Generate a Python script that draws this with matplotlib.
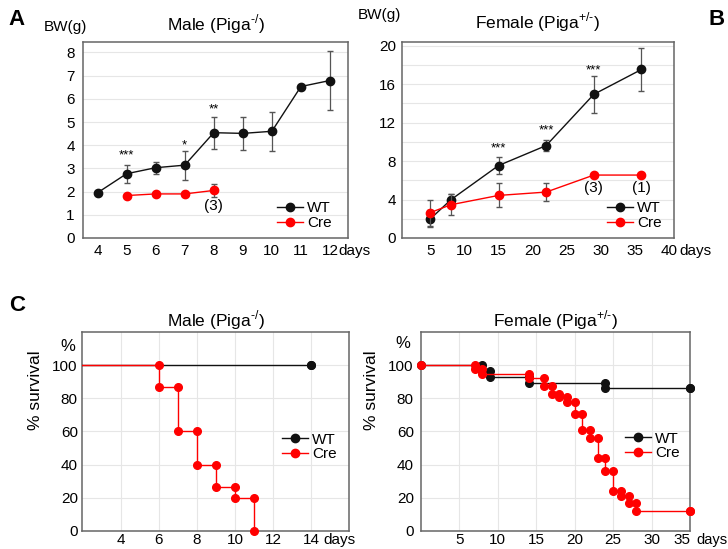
import matplotlib.pyplot as plt
from matplotlib.lines import Line2D

plt.rcParams['font.family'] = ['Liberation Sans', 'DejaVu Sans']
plt.rcParams['mathtext.fontset'] = 'custom'
plt.rcParams['mathtext.rm'] = 'Liberation Sans'

# --- body weight, male (Piga-/)
male_days = [4, 5, 6, 7, 8, 9, 10, 11, 12]
male_wt = [1.95, 2.77, 3.03, 3.14, 4.54, 4.51, 4.6, 6.53, 6.79]
male_wt_err = [0.0, 0.38, 0.26, 0.63, 0.69, 0.7, 0.83, 0.0, 1.26]
male_cre_days = [5, 6, 7, 8]
male_cre = [1.83, 1.9, 1.9, 2.05]
male_cre_err = [0.08, 0.0, 0.0, 0.27]

# --- body weight, female (Piga+/-)
fem_days = [5, 8, 15, 22, 29, 36]
fem_wt = [2.0, 3.98, 7.54, 9.62, 14.95, 17.54]
fem_wt_err = [0.9, 0.6, 0.85, 0.6, 1.95, 2.2]
fem_cre = [2.65, 3.46, 4.43, 4.78, 6.55, 6.55]
fem_cre_err = [1.35, 1.1, 1.25, 0.95, 0.0, 0.0]

# --- survival
surv_m_wt_t = [0, 14]
surv_m_wt = [100, 100]
surv_m_cre_t = [0, 6, 7, 8, 9, 10, 11]
surv_m_cre = [100, 86.7, 60, 40, 26.7, 20, 0]
surv_f_wt_t = [0, 8, 9, 14, 24, 35]
surv_f_wt = [100, 96.6, 93, 89.4, 86, 86]
surv_f_cre_t = [0, 7, 8, 14, 16, 17, 18, 19, 20, 21, 22, 23, 24, 25, 26, 27, 28, 35]
surv_f_cre = [100, 97.4, 94.8, 92.4, 87.6, 82.8, 80.6, 77.8, 70.4, 60.8, 56, 43.8,
              36, 24, 21.4, 16.8, 11.8, 11.8]

RED = '#ff0000'
BLK = '#111111'
GRID = '#e6e6e6'
SPINE = '#666666'
FS = 11
TFS = 12.5
MS = 6

fig = plt.figure(figsize=(7.28, 5.49), dpi=100)

def frame(ax, xpad, ypad):
    for s in ax.spines.values():
        s.set_color(SPINE)
        s.set_linewidth(1.1)
    ax.tick_params(length=0, labelsize=FS)
    ax.tick_params(axis='x', pad=xpad)
    ax.tick_params(axis='y', pad=ypad)
    ax.set_axisbelow(True)

def days(ax, x, pad, fs=FS):
    # same baseline as the x tick labels
    ax.annotate('days', xy=(x, 0), xycoords=('data', 'axes fraction'),
                xytext=(0, -pad), textcoords='offset points',
                fontsize=fs, ha='left', va='top', annotation_clip=False)

def legend(ax, x0, y0):
    hs = [Line2D([], [], color=BLK, marker='o', ms=MS, lw=1),
          Line2D([], [], color=RED, marker='o', ms=MS, lw=1)]
    ax.legend(hs, ['WT', 'Cre'], loc='lower left', bbox_to_anchor=(x0, y0),
              frameon=False, fontsize=FS, handlelength=1.7, handletextpad=0.25,
              labelspacing=0.05, borderpad=0, borderaxespad=0)

def weights(ax, x, y, e, xc, yc, ec):
    ax.errorbar(x, y, yerr=e, color=BLK, ecolor='#555555', elinewidth=0.9, capsize=2,
                marker='o', ms=MS, lw=1, zorder=3)
    ax.errorbar(xc, yc, yerr=ec, color=RED, ecolor='#555555', elinewidth=0.9, capsize=2,
                marker='o', ms=MS, lw=1, zorder=4)

def km(ax, t, s, col, z, xmin):
    ax.step(t, s, where='post', color=col, lw=1, zorder=z)
    mx = [t[0]]
    my = [s[0]]
    for i in range(1, len(t)):
        mx += [t[i], t[i]]
        my += [s[i - 1], s[i]]
    keep = [i for i in range(len(mx)) if mx[i] >= xmin]
    ax.plot([mx[i] for i in keep], [my[i] for i in keep], 'o', color=col,
            ms=MS - 0.5, zorder=z, clip_on=False)

# panel A
axA = fig.add_axes([0.114, 0.5665, 0.364, 0.357])
frame(axA, 4, 6)
weights(axA, male_days, male_wt, male_wt_err, male_cre_days, male_cre, male_cre_err)
axA.set_xlim(3.5, 12.62)
axA.set_ylim(0, 8.45)
axA.set_xticks(male_days)
axA.set_yticks(range(0, 9))
axA.yaxis.grid(True, color=GRID, lw=0.8)
days(axA, 12.3, 4)
axA.text(5, 3.45, '***', ha='center', fontsize=9.5)
axA.text(7, 3.85, '*', ha='center', fontsize=9.5)
axA.text(8, 5.4, '**', ha='center', fontsize=9.5)
axA.text(8, 1.37, '(3)', ha='center', va='center', fontsize=FS)
legend(axA, 0.732, 0.04)
axA.set_title(r'Male (Piga$^{\text{-/}}$)', fontsize=TFS, pad=8)
fig.text(0.09, 0.951, 'BW(g)', fontsize=FS, ha='center', va='center')
fig.text(0.012, 0.965, 'A', fontsize=16, fontweight='bold', va='center')

# panel B
axB = fig.add_axes([0.552, 0.5665, 0.374, 0.357])
frame(axB, 4, 4)
weights(axB, fem_days, fem_wt, fem_wt_err, fem_days, fem_cre, fem_cre_err)
axB.set_xlim(0.8, 40.8)
axB.set_ylim(0, 20.4)
axB.set_xticks(range(5, 41, 5))
axB.set_yticks(range(0, 21, 4))
axB.set_yticks(range(0, 21, 2), minor=True)
axB.tick_params(which='minor', length=0)
axB.yaxis.grid(True, which='both', color=GRID, lw=0.8)
days(axB, 41.5, 4)
for xx, yy in [(15, 9.0), (22, 10.9), (29, 17.1)]:
    axB.text(xx, yy, '***', ha='center', fontsize=9.5)
axB.text(29, 5.2, '(3)', ha='center', va='center', fontsize=FS)
axB.text(36, 5.2, '(1)', ha='center', va='center', fontsize=FS)
legend(axB, 0.754, 0.04)
axB.set_title(r'Female (Piga$^{\text{+/-}}$)', fontsize=TFS, pad=10)
fig.text(0.551, 0.972, 'BW(g)', fontsize=FS, ha='right', va='center')
fig.text(0.973, 0.965, 'B', fontsize=16, fontweight='bold', va='center')

# panel C left
axC = fig.add_axes([0.1126, 0.0328, 0.3668, 0.3625])
frame(axC, 1.5, 3)
km(axC, surv_m_wt_t, surv_m_wt, BLK, 3, 1.95)
km(axC, surv_m_cre_t, surv_m_cre, RED, 4, 1.95)
axC.set_xlim(1.95, 16)
axC.set_ylim(0, 120)
axC.set_xticks(range(4, 15, 2))
axC.set_yticks(range(0, 101, 20))
axC.grid(True, color=GRID, lw=0.8)
days(axC, 14.65, 1.5)
axC.text(1.2, 111, '%', fontsize=FS + 1, ha='center', va='center')
axC.set_ylabel('% survival', fontsize=12.5)
axC.yaxis.set_label_coords(-0.145, 0.71)
legend(axC, 0.749, 0.35)
axC.set_title(r'Male (Piga$^{\text{-/}}$)', fontsize=TFS, pad=4)
fig.text(0.012, 0.443, 'C', fontsize=16, fontweight='bold', va='center')

# panel C right
axD = fig.add_axes([0.578, 0.0328, 0.37, 0.3625])
frame(axD, 1.5, 5)
km(axD, surv_f_wt_t, surv_f_wt, BLK, 3, 0)
km(axD, surv_f_cre_t, surv_f_cre, RED, 4, 0)
axD.set_xlim(0, 35)
axD.set_ylim(0, 120)
axD.set_xticks(range(5, 36, 5))
axD.set_yticks(range(0, 101, 20))
axD.xaxis.get_major_ticks()[-1].label1.set_horizontalalignment('right')
axD.grid(True, color=GRID, lw=0.8)
days(axD, 35.85, 1.5, fs=10.5)
axD.text(-2.4, 113, '%', fontsize=FS + 1, ha='center', va='center')
axD.set_ylabel('% survival', fontsize=12.5)
axD.yaxis.set_label_coords(-0.156, 0.71)
legend(axD, 0.758, 0.355)
axD.set_title(r'Female (Piga$^{\text{+/-}}$)', fontsize=TFS, pad=4)

fig.savefig('out.png', dpi=100)
